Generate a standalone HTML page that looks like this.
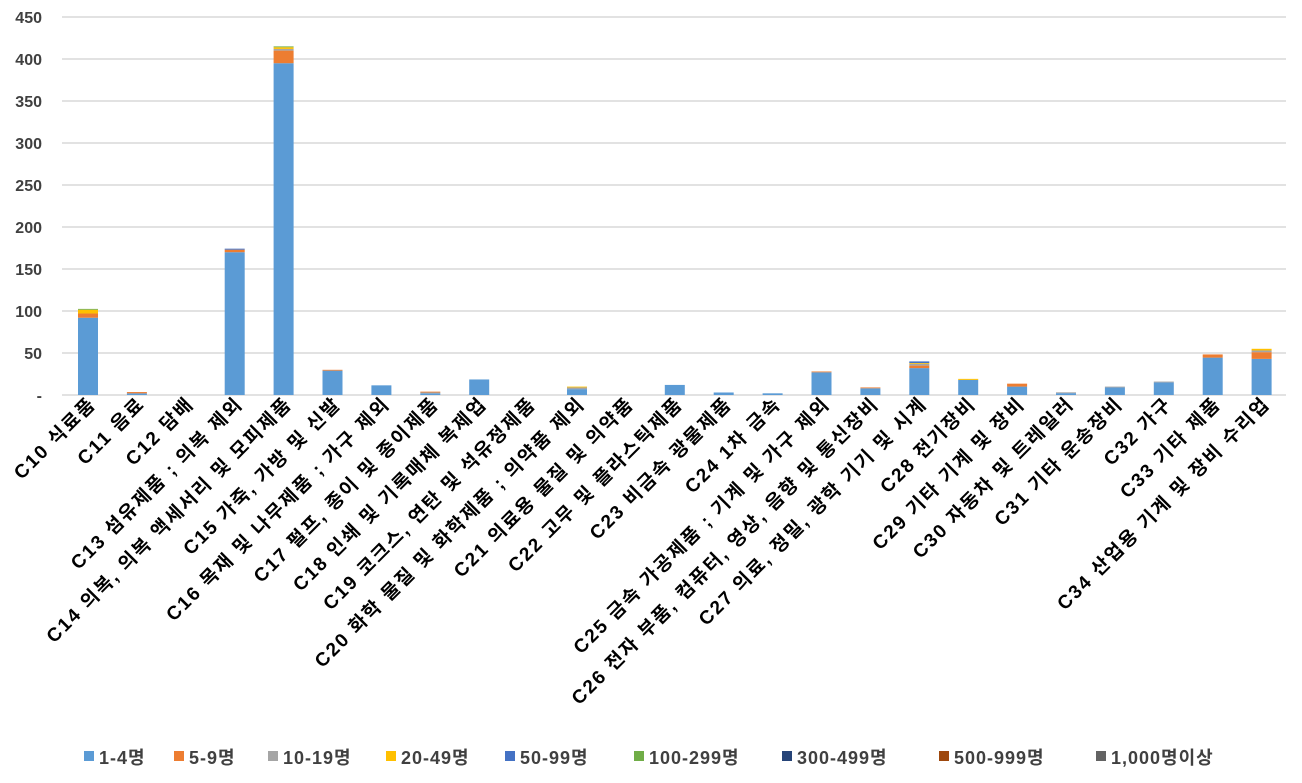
<!DOCTYPE html>
<html><head><meta charset="utf-8"><style>
body{margin:0;background:#fff}
svg{display:block;font-family:"Liberation Sans","Noto Sans CJK KR",sans-serif}
</style></head><body>
<svg width="1302" height="783" viewBox="0 0 1302 783">
<g stroke="#d9d9d9" stroke-width="1.5">
<line x1="62" x2="1286" y1="17" y2="17"/><line x1="62" x2="1286" y1="59" y2="59"/><line x1="62" x2="1286" y1="101" y2="101"/><line x1="62" x2="1286" y1="143" y2="143"/><line x1="62" x2="1286" y1="185" y2="185"/><line x1="62" x2="1286" y1="227" y2="227"/><line x1="62" x2="1286" y1="269" y2="269"/><line x1="62" x2="1286" y1="311" y2="311"/><line x1="62" x2="1286" y1="353" y2="353"/><line x1="62" x2="1286" y1="395" y2="395"/>
</g>
<g font-size="16" font-weight="bold" fill="#404040" text-anchor="end">
<text x="42" y="23">450</text><text x="42" y="65">400</text><text x="42" y="107">350</text><text x="42" y="149">300</text><text x="42" y="191">250</text><text x="42" y="233">200</text><text x="42" y="275">150</text><text x="42" y="317">100</text><text x="42" y="359">50</text><text x="42" y="401">-</text>
</g>
<g transform="translate(0,395) scale(1,-0.84)">
<rect x="78" y="0" width="20" height="92" fill="#5B9BD5"/><rect x="78" y="92" width="20" height="5" fill="#ED7D31"/><rect x="78" y="97" width="20" height="4.5" fill="#FFC000"/><rect x="78" y="101.5" width="20" height="1" fill="#70AD47"/>
<rect x="126.9" y="0" width="20" height="2" fill="#5B9BD5"/><rect x="126.9" y="2" width="20" height="1.5" fill="#ED7D31"/>
<rect x="224.7" y="0" width="20" height="170" fill="#5B9BD5"/><rect x="224.7" y="170" width="20" height="3" fill="#ED7D31"/><rect x="224.7" y="173" width="20" height="1.2" fill="#4472C4"/>
<rect x="273.6" y="0" width="20" height="395" fill="#5B9BD5"/><rect x="273.6" y="395" width="20" height="15" fill="#ED7D31"/><rect x="273.6" y="410" width="20" height="2" fill="#A5A5A5"/><rect x="273.6" y="412" width="20" height="2" fill="#FFC000"/><rect x="273.6" y="414" width="20" height="1" fill="#70AD47"/>
<rect x="322.5" y="0" width="20" height="29" fill="#5B9BD5"/><rect x="322.5" y="29" width="20" height="1" fill="#ED7D31"/>
<rect x="371.4" y="0" width="20" height="11.5" fill="#5B9BD5"/>
<rect x="420.3" y="0" width="20" height="2" fill="#5B9BD5"/><rect x="420.3" y="2" width="20" height="1" fill="#A5A5A5"/><rect x="420.3" y="3" width="20" height="1" fill="#ED7D31"/>
<rect x="469.2" y="0" width="20" height="18.5" fill="#5B9BD5"/>
<rect x="567" y="0" width="20" height="7" fill="#5B9BD5"/><rect x="567" y="7" width="20" height="2" fill="#A5A5A5"/><rect x="567" y="9" width="20" height="1" fill="#FFC000"/>
<rect x="664.8" y="0" width="20" height="12" fill="#5B9BD5"/>
<rect x="713.7" y="0" width="20" height="3" fill="#5B9BD5"/>
<rect x="762.6" y="0" width="20" height="2" fill="#5B9BD5"/>
<rect x="811.5" y="0" width="20" height="27" fill="#5B9BD5"/><rect x="811.5" y="27" width="20" height="1" fill="#ED7D31"/>
<rect x="860.4" y="0" width="20" height="8" fill="#5B9BD5"/><rect x="860.4" y="8" width="20" height="1" fill="#ED7D31"/>
<rect x="909.3" y="0" width="20" height="32" fill="#5B9BD5"/><rect x="909.3" y="32" width="20" height="3" fill="#ED7D31"/><rect x="909.3" y="35" width="20" height="2" fill="#A5A5A5"/><rect x="909.3" y="37" width="20" height="1" fill="#FFC000"/><rect x="909.3" y="38" width="20" height="2" fill="#4472C4"/>
<rect x="958.2" y="0" width="20" height="18" fill="#5B9BD5"/><rect x="958.2" y="18" width="20" height="1.2" fill="#FFC000"/>
<rect x="1007.1" y="0" width="20" height="10" fill="#5B9BD5"/><rect x="1007.1" y="10" width="20" height="3.5" fill="#ED7D31"/>
<rect x="1056" y="0" width="20" height="2.2" fill="#5B9BD5"/><rect x="1056" y="2.2" width="20" height="1" fill="#A5A5A5"/>
<rect x="1104.9" y="0" width="20" height="9" fill="#5B9BD5"/><rect x="1104.9" y="9" width="20" height="1" fill="#A5A5A5"/>
<rect x="1153.8" y="0" width="20" height="15" fill="#5B9BD5"/><rect x="1153.8" y="15" width="20" height="1" fill="#A5A5A5"/>
<rect x="1202.7" y="0" width="20" height="44.5" fill="#5B9BD5"/><rect x="1202.7" y="44.5" width="20" height="3.8" fill="#ED7D31"/>
<rect x="1251.6" y="0" width="20" height="43" fill="#5B9BD5"/><rect x="1251.6" y="43" width="20" height="8" fill="#ED7D31"/><rect x="1251.6" y="51" width="20" height="2" fill="#A5A5A5"/><rect x="1251.6" y="53" width="20" height="2" fill="#FFC000"/>
</g>
<g font-size="19" font-weight="bold" fill="#000" text-anchor="end" letter-spacing="2">
<text transform="translate(97,405) rotate(-45)">C10 식료품</text>
<text transform="translate(146,405) rotate(-45)">C11 음료</text>
<text transform="translate(195,405) rotate(-45)">C12 담배</text>
<text transform="translate(244,405) rotate(-45)">C13 섬유제품 ; 의복 제외</text>
<text transform="translate(293,405) rotate(-45)">C14 의복, 의복 액세서리 및 모피제품</text>
<text transform="translate(342,405) rotate(-45)">C15 가죽, 가방 및 신발</text>
<text transform="translate(391,405) rotate(-45)">C16 목재 및 나무제품 ; 가구 제외</text>
<text transform="translate(440,405) rotate(-45)">C17 펄프, 종이 및 종이제품</text>
<text transform="translate(488,405) rotate(-45)">C18 인쇄 및 기록매체 복제업</text>
<text transform="translate(537,405) rotate(-45)">C19 코크스, 연탄 및 석유정제품</text>
<text transform="translate(586,405) rotate(-45)">C20 화학 물질 및 화학제품 ; 의약품 제외</text>
<text transform="translate(635,405) rotate(-45)">C21 의료용 물질 및 의약품</text>
<text transform="translate(684,405) rotate(-45)">C22 고무 및 플라스틱제품</text>
<text transform="translate(733,405) rotate(-45)">C23 비금속 광물제품</text>
<text transform="translate(782,405) rotate(-45)">C24 1차 금속</text>
<text transform="translate(831,405) rotate(-45)">C25 금속 가공제품 ; 기계 및 가구 제외</text>
<text transform="translate(880,405) rotate(-45)">C26 전자 부품, 컴퓨터, 영상, 음향 및 통신장비</text>
<text transform="translate(928,405) rotate(-45)">C27 의료, 정밀, 광학 기기 및 시계</text>
<text transform="translate(977,405) rotate(-45)">C28 전기장비</text>
<text transform="translate(1026,405) rotate(-45)">C29 기타 기계 및 장비</text>
<text transform="translate(1075,405) rotate(-45)">C30 자동차 및 트레일러</text>
<text transform="translate(1124,405) rotate(-45)">C31 기타 운송장비</text>
<text transform="translate(1173,405) rotate(-45)">C32 가구</text>
<text transform="translate(1222,405) rotate(-45)">C33 기타 제품</text>
<text transform="translate(1271,405) rotate(-45)">C34 산업용 기계 및 장비 수리업</text>
</g>
<g font-size="18" font-weight="bold" fill="#404040" letter-spacing="1">
<rect x="84" y="751" width="10" height="10" fill="#5B9BD5"/><text x="99" y="764">1-4명</text>
<rect x="174" y="751" width="10" height="10" fill="#ED7D31"/><text x="189" y="764">5-9명</text>
<rect x="268" y="751" width="10" height="10" fill="#A5A5A5"/><text x="283" y="764">10-19명</text>
<rect x="386" y="751" width="10" height="10" fill="#FFC000"/><text x="401" y="764">20-49명</text>
<rect x="505" y="751" width="10" height="10" fill="#4472C4"/><text x="520" y="764">50-99명</text>
<rect x="634" y="751" width="10" height="10" fill="#70AD47"/><text x="649" y="764">100-299명</text>
<rect x="782" y="751" width="10" height="10" fill="#264478"/><text x="797" y="764">300-499명</text>
<rect x="939" y="751" width="10" height="10" fill="#9E480E"/><text x="954" y="764">500-999명</text>
<rect x="1096" y="751" width="10" height="10" fill="#636363"/><text x="1111" y="764">1,000명이상</text>
</g>
</svg>
</body></html>
